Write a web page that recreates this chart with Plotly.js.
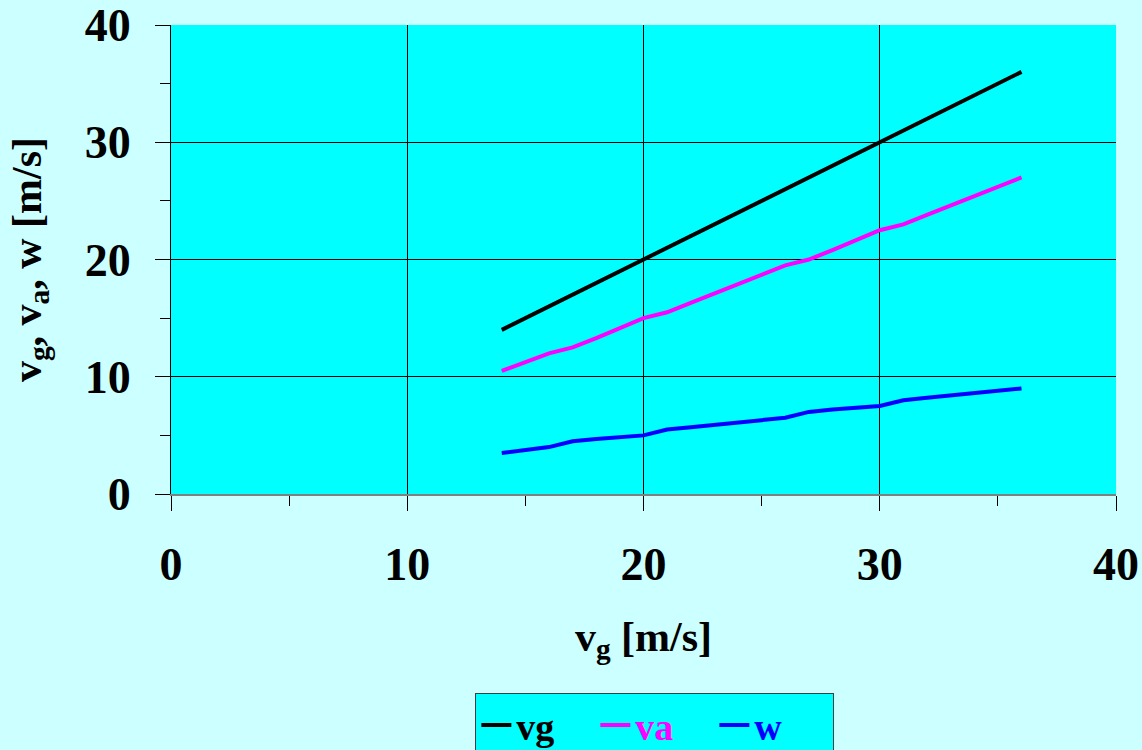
<!DOCTYPE html>
<html>
<head>
<meta charset="utf-8">
<script src="https://cdn.plot.ly/plotly-3.0.1.min.js"></script>
<style>html,body{margin:0;padding:0;background:#CCFFFF;}#chart{width:1142px;height:750px;}</style>
</head>
<body>
<div id="chart"></div>
<script>
// Data
const vgX = [14, 16, 17, 18, 20, 21, 22, 24, 26, 27, 28, 30, 31, 32, 34, 36];
const vgValues = [14, 16, 17, 18, 20, 21, 22, 24, 26, 27, 28, 30, 31, 32, 34, 36];
const wValues = [3.5, 4.0, 4.5, 4.7, 5.0, 5.5, 5.7, 6.1, 6.5, 7.0, 7.2, 7.5, 8.0, 8.2, 8.6, 9.0];
const vaValues = [10.5, 12.0, 12.5, 13.3, 15.0, 15.5, 16.3, 17.9, 19.5, 20.0, 20.8, 22.5, 23.0, 23.8, 25.4, 27.0];
const seriesNames = ['vg', 'va', 'w'];
const seriesColors = ['#000000', '#FF00FF', '#0000FF'];
const tickVals = [0, 10, 20, 30, 40];

const font = 'Liberation Serif, Times New Roman, serif';
const series = [vgValues, vaValues, wValues];
const traces = series.map((ys, i) => ({
  x: vgX, y: ys, type: 'scatter', mode: 'lines',
  name: '<b><span style="color:' + seriesColors[i] + '">' + seriesNames[i] + '</span></b>',
  line: {color: seriesColors[i], width: 4}
}));

const axisCommon = {
  range: [0, 40], tickvals: tickVals, ticktext: tickVals.map(String),
  showgrid: true, gridcolor: '#000000', gridwidth: 1,
  ticks: 'outside', ticklen: 15, tickwidth: 1, tickcolor: '#000000',
  minor: {ticks: 'outside', ticklen: 10, dtick: 5, tickcolor: '#000000', tickwidth: 1, showgrid: false},
  tickfont: {family: font, size: 46, color: '#000000', weight: 'bold'},
  showline: true, zeroline: false, fixedrange: true
};

const layout = {
  width: 1142, height: 750,
  paper_bgcolor: '#CCFFFF', plot_bgcolor: '#00FFFF',
  margin: {l: 171, r: 26, t: 25, b: 256, autoexpand: false},
  showlegend: true,
  xaxis: Object.assign({}, axisCommon, {
    linecolor: '#808080', linewidth: 2,
    ticklabelstandoff: 14,
    title: {text: '<b>v<sub>g</sub> [m/s]</b>', font: {family: font, size: 42, color: '#000000'}, standoff: 32}
  }),
  yaxis: Object.assign({}, axisCommon, {
    linecolor: '#000000', linewidth: 1,
    ticklabelstandoff: 15,
    title: {text: '<b>v<sub>g</sub>, v<sub>a</sub>, w [m/s]</b>', font: {family: font, size: 42, color: '#000000'}, standoff: 30}
  }),
  legend: {
    orientation: 'h', x: 0.512, xanchor: 'center', y: -0.424, yanchor: 'top',
    bgcolor: '#00FFFF', bordercolor: '#404040', borderwidth: 1,
    font: {family: font, size: 38, color: '#000000'},
    entrywidth: 74, entrywidthmode: 'pixels'
  }
};

Plotly.newPlot('chart', traces, layout, {displayModeBar: false, staticPlot: true});
</script>
</body>
</html>
